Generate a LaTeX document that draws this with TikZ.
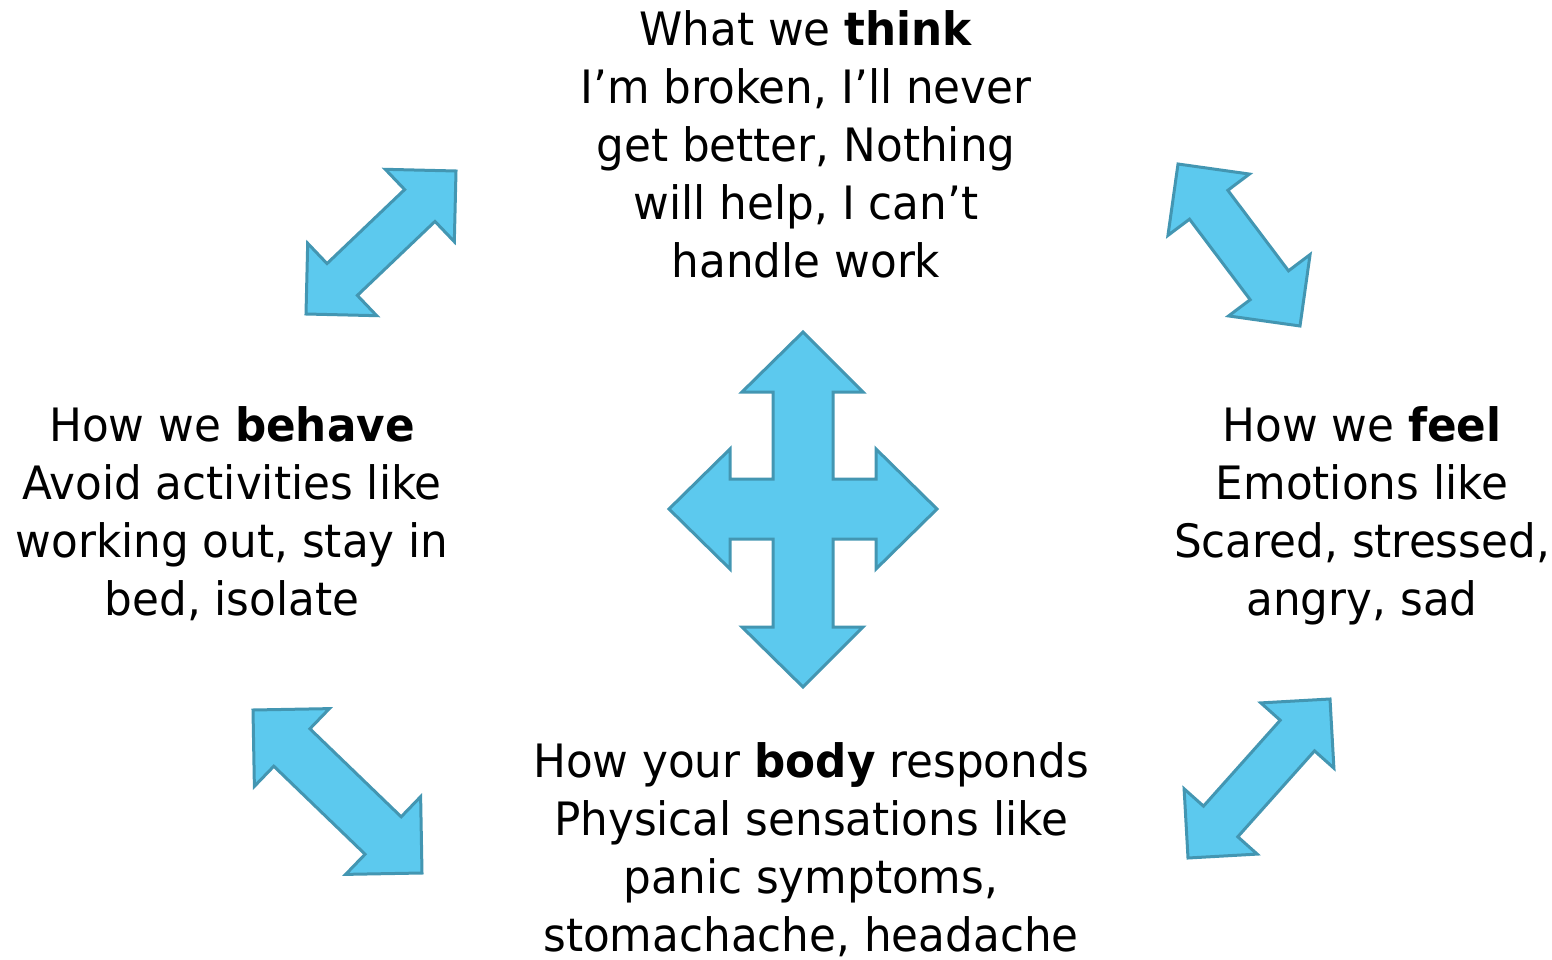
\documentclass[tikz,border=0pt]{standalone}
\usepackage{fontspec}
\setmainfont[FakeStretch=0.95]{DejaVu Sans}
\usetikzlibrary{calc}
\definecolor{arrowfill}{HTML}{5CC9EE}
\definecolor{arrowline}{HTML}{4396B2}
\tikzset{
  blockarrow/.style={fill=arrowfill, draw=arrowline, line width=3pt, line join=miter},
  cbtlabel/.style={align=center, inner sep=0pt, anchor=north, font=\fontsize{46}{58}\selectfont}
}
% double headed block arrow: tips #1 and #2, head half width #3, shaft half width #4
\newcommand{\twoway}[4]{%
  \pgfmathsetmacro\barbd{sqrt(2)*#3}
  \pgfmathsetmacro\notchd{sqrt(#3*#3+#4*#4)}
  \pgfmathsetmacro\notcha{atan(#4/#3)}
  \draw[blockarrow] (#1)
    -- ($(#1)!\barbd pt!45:(#2)$)
    -- ($(#1)!\notchd pt!\notcha:(#2)$)
    -- ($(#2)!\notchd pt!-\notcha:(#1)$)
    -- ($(#2)!\barbd pt!-45:(#1)$)
    -- (#2)
    -- ($(#2)!\barbd pt!45:(#1)$)
    -- ($(#2)!\notchd pt!\notcha:(#1)$)
    -- ($(#1)!\notchd pt!-\notcha:(#2)$)
    -- ($(#1)!\barbd pt!-45:(#2)$)
    -- cycle;}

\begin{document}
\begin{tikzpicture}[x=1pt,y=-1pt]
  \useasboundingbox (0,0) rectangle (1552,960);

  % the four corners
  \node[cbtlabel] (think) at (806,10) {What we \textbf{think}\\I’m broken, I’ll never\\get better, Nothing\\will help, I can’t\\handle work};
  \node[cbtlabel] (behave) at (232,406) {How we \textbf{behave}\\Avoid activities like\\working out, stay in\\bed, isolate};
  \node[cbtlabel] (feel) at (1362,406) {How we \textbf{feel}\\Emotions like\\Scared, stressed,\\angry, sad};
  \node[cbtlabel] (body) at (811,742) {How your \textbf{body} responds\\Physical sensations like\\panic symptoms,\\stomachache, headache};

  % tips of the diagonal arrows
  \coordinate (tlA) at (456,171);  \coordinate (tlB) at (306,314);
  \coordinate (trA) at (1178,164); \coordinate (trB) at (1300,326);
  \coordinate (blA) at (253,710);  \coordinate (blB) at (422,873);
  \coordinate (brA) at (1330,699); \coordinate (brB) at (1188,858);

  \twoway{tlA}{tlB}{50}{22}
  \twoway{trA}{trB}{51}{24}
  \twoway{blA}{blB}{54}{26}
  \twoway{brA}{brB}{49}{23}

  % the cross in the middle
  \draw[blockarrow] (803,332) -- (863,392) -- (833,392) -- (833,479) -- (876,479)
    -- (876,449) -- (937,509) -- (876,569) -- (876,539) -- (833,539) -- (833,627)
    -- (863,627) -- (803,687) -- (742,627) -- (773,627) -- (773,539) -- (730,539)
    -- (730,569) -- (669,509) -- (730,449) -- (730,479) -- (773,479) -- (773,392)
    -- (742,392) -- cycle;
\end{tikzpicture}
\end{document}
